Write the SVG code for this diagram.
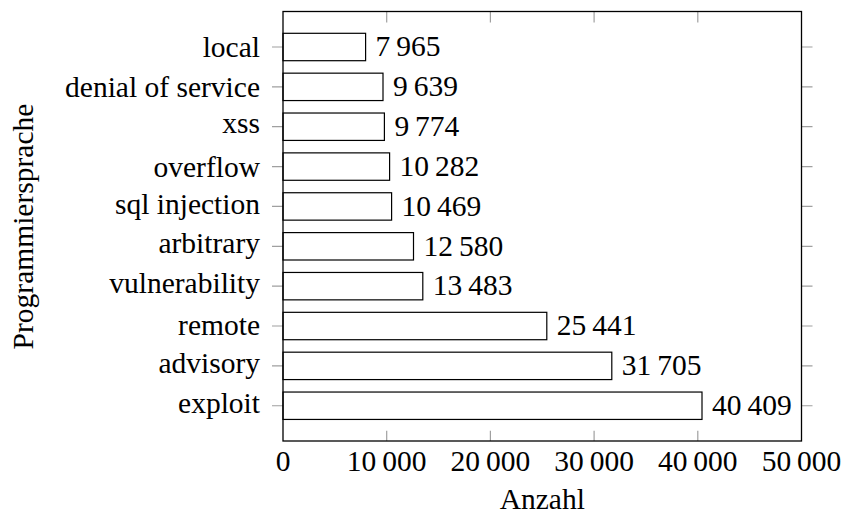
<svg xmlns="http://www.w3.org/2000/svg" width="842" height="514" viewBox="0 0 842 514" font-family="'Liberation Serif', 'Times New Roman', 'DejaVu Serif', serif" font-size="29.5">
<style>
text{font-family:'Liberation Serif','Times New Roman','DejaVu Serif',serif;font-size:29.5px;fill:#000}
.cat{text-anchor:end}
.val{text-anchor:start}
.xl{text-anchor:middle}
.bar{fill:#fff;stroke:#000;stroke-width:1.2}
.tick{stroke:#a0a0a0;stroke-width:1.2;fill:none}
.frame{fill:none;stroke:#000;stroke-width:1.3}
</style>
<rect width="842" height="514" fill="#fff"/>
<g id="ticks">
<path class="tick" d="M386.7,441V430.7M490.4,441V430.7M594.1,441V430.7M697.8,441V430.7M386.7,11.5V22.5M490.4,11.5V22.5M594.1,11.5V22.5M697.8,11.5V22.5"/>
<path class="tick" d="M272,47H283M272,86.86H283M272,126.72H283M272,166.58H283M272,206.44H283M272,246.3H283M272,286.16H283M272,326.02H283M272,365.88H283M272,405.74H283"/>
<path class="tick" d="M801.5,47H812.5M801.5,86.86H812.5M801.5,126.72H812.5M801.5,166.58H812.5M801.5,206.44H812.5M801.5,246.3H812.5M801.5,286.16H812.5M801.5,326.02H812.5M801.5,365.88H812.5M801.5,405.74H812.5"/>
</g>
<g id="bar-local"><rect class="bar" x="283" y="33.3" width="82.6" height="27.4"/><text class="val" x="375.6" y="56.2">7&#8201;965</text><text class="cat" x="260" y="56.9">local</text></g>
<g id="bar-denial"><rect class="bar" x="283" y="73.16" width="100" height="27.4"/><text class="val" x="393" y="96.1">9&#8201;639</text><text class="cat" x="260" y="96.8">denial of service</text></g>
<g id="bar-xss"><rect class="bar" x="283" y="113.02" width="101.4" height="27.4"/><text class="val" x="394.4" y="135.9">9&#8201;774</text><text class="cat" x="260" y="132.8">xss</text></g>
<g id="bar-overflow"><rect class="bar" x="283" y="152.88" width="106.6" height="27.4"/><text class="val" x="399.6" y="175.8">10&#8201;282</text><text class="cat" x="260" y="176.5">overflow</text></g>
<g id="bar-sql"><rect class="bar" x="283" y="192.74" width="108.6" height="27.4"/><text class="val" x="401.6" y="215.6">10&#8201;469</text><text class="cat" x="260" y="213.5">sql injection</text></g>
<g id="bar-arbitrary"><rect class="bar" x="283" y="232.6" width="130.5" height="27.4"/><text class="val" x="423.5" y="255.5">12&#8201;580</text><text class="cat" x="260" y="253.4">arbitrary</text></g>
<g id="bar-vulnerability"><rect class="bar" x="283" y="272.46" width="139.8" height="27.4"/><text class="val" x="432.8" y="295.4">13&#8201;483</text><text class="cat" x="260" y="293.3">vulnerability</text></g>
<g id="bar-remote"><rect class="bar" x="283" y="312.32" width="263.8" height="27.4"/><text class="val" x="556.8" y="335.2">25&#8201;441</text><text class="cat" x="260" y="334.8">remote</text></g>
<g id="bar-advisory"><rect class="bar" x="283" y="352.18" width="328.8" height="27.4"/><text class="val" x="621.8" y="375.1">31&#8201;705</text><text class="cat" x="260" y="373">advisory</text></g>
<g id="bar-exploit"><rect class="bar" x="283" y="392.04" width="419" height="27.4"/><text class="val" x="712" y="414.9">40&#8201;409</text><text class="cat" x="260" y="412.8">exploit</text></g>
<rect id="frame" class="frame" x="283" y="11.5" width="518.5" height="429.5"/>
<g id="xlabels">
<text class="xl" x="283" y="471">0</text>
<text class="xl" x="386.7" y="471">10&#8201;000</text>
<text class="xl" x="490.4" y="471">20&#8201;000</text>
<text class="xl" x="594.1" y="471">30&#8201;000</text>
<text class="xl" x="697.8" y="471">40&#8201;000</text>
<text class="xl" x="801.5" y="471">50&#8201;000</text>
<text class="xl" x="542.3" y="508.5">Anzahl</text>
</g>
<text id="ylabel" class="xl" transform="translate(33.3,226.5) rotate(-90)">Programmiersprache</text>
</svg>
